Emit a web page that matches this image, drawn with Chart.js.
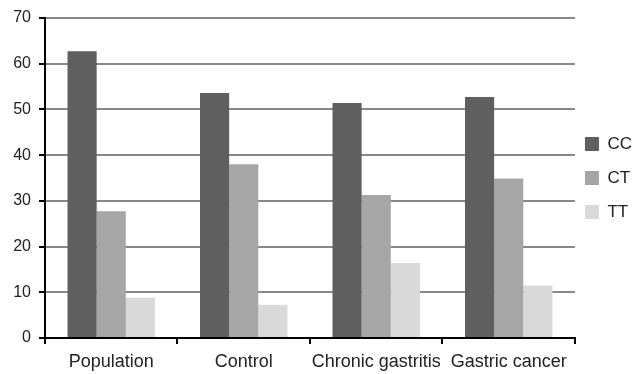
<!DOCTYPE html>
<html>
<head>
<meta charset="utf-8">
<script src="https://cdn.jsdelivr.net/npm/chart.js@4/dist/chart.umd.min.js"></script>
<style>
html,body{margin:0;padding:0;background:#fff;}
#wrap{width:633px;height:374px;position:relative;}
</style>
</head>
<body>
<div id="wrap"><canvas id="c" width="633" height="374"></canvas></div>
<script>
const categories = ["Population", "Control", "Chronic gastritis", "Gastric cancer"];
const seriesNames = ["CC", "CT", "TT"];
const ccValues = [62.7, 53.6, 51.4, 52.7];
const ctValues = [27.7, 38.0, 31.3, 34.9];
const ttValues = [8.8, 7.3, 16.4, 11.5];
const seriesColors = ["#5f5f5f", "#a6a6a6", "#d9d9d9"];
const yTicks = [0, 10, 20, 30, 40, 50, 60, 70];

const fontY = {family: "'Liberation Sans', Arial, sans-serif", size: 16};
const fontX = {family: "'Liberation Sans', Arial, sans-serif", size: 18};
const fontL = {family: "'Liberation Sans', Arial, sans-serif", size: 17};
const txt = '#222';

const legendShift = {
  id: 'legendShift',
  afterLayout(chart) {
    const lg = chart.legend;
    if (!lg) return;
    const ca = chart.chartArea;
    const target = ca.right + 10 - lg.options.labels.padding;
    const dx = target - lg.left;
    lg.left += dx; lg.right += dx;
    const dy = (ca.top + ca.bottom) / 2 - (lg.top + lg.bottom) / 2;
    lg.top += dy; lg.bottom += dy;
  }
};

new Chart(document.getElementById('c'), {
  type: 'bar',
  data: {
    labels: categories,
    datasets: [ccValues, ctValues, ttValues].map((vals, i) => ({
      label: seriesNames[i],
      data: vals,
      backgroundColor: seriesColors[i],
      borderWidth: 0,
      categoryPercentage: 0.66,
      barPercentage: 1.0
    }))
  },
  plugins: [legendShift],
  options: {
    responsive: false,
    animation: false,
    layout: {padding: {top: 18, right: -16, bottom: 0, left: 0}},
    plugins: {
      tooltip: {enabled: false},
      legend: {
        position: 'right',
        labels: {
          boxWidth: 14, boxHeight: 14, padding: 17,
          font: fontL, color: txt
        }
      }
    },
    scales: {
      x: {
        grid: {display: true, drawOnChartArea: false, drawTicks: true, tickLength: 6, color: '#000', lineWidth: 2},
        border: {color: '#000', width: 2},
        ticks: {font: fontX, color: txt, padding: 7, maxRotation: 0, autoSkip: false},
        afterFit: s => { s.height = 36; }
      },
      y: {
        min: 0, max: 70,
        afterBuildTicks: s => { s.ticks = yTicks.map(v => ({value: v})); },
        grid: {color: '#888', lineWidth: 2, tickColor: '#000', tickLength: 6, drawTicks: true},
        border: {color: '#000', width: 2},
        ticks: {font: fontY, color: txt, padding: 8},
        afterFit: s => { s.width = 45; }
      }
    }
  }
});
</script>
</body>
</html>
